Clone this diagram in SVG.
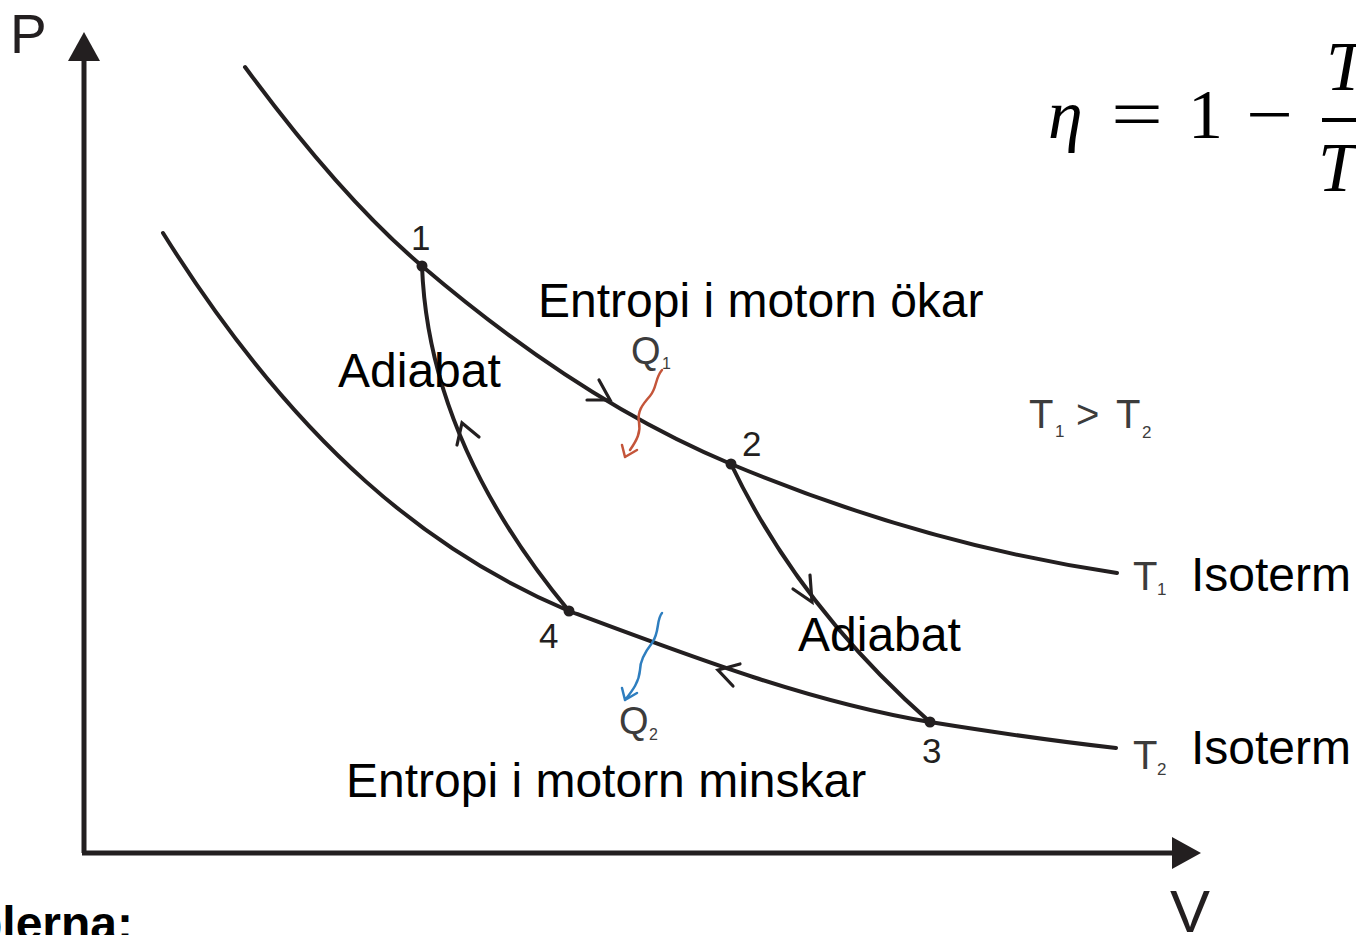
<svg xmlns="http://www.w3.org/2000/svg" width="1356" height="935" viewBox="0 0 1356 935">
<style>
.ln{fill:none;stroke:#231f20;stroke-width:4;stroke-linecap:round;stroke-linejoin:round}
.ax{fill:none;stroke:#231f20;stroke-width:5}
.chev{fill:none;stroke:#231f20;stroke-width:3.2;stroke-linecap:round;stroke-linejoin:miter}
.lbl{font-family:"Liberation Sans",Arial,sans-serif;font-size:48px;fill:#000}
.num{font-family:"Liberation Sans",Arial,sans-serif;font-size:35px;fill:#231f20}
.gray{font-family:"Liberation Sans",Arial,sans-serif;fill:#3c3c3c}
.math{font-family:"Liberation Serif","DejaVu Serif",serif;font-size:70px;fill:#000}
.dot{fill:#231f20}
</style>
<rect width="1356" height="935" fill="#fff"/>
<g id="axes">
<line class="ax" x1="84" y1="56" x2="84" y2="853"/>
<line class="ax" x1="82" y1="853" x2="1176" y2="853"/>
<polygon points="84,32 100,61 68,61" fill="#231f20"/>
<polygon points="1201,853 1172,837 1172,869" fill="#231f20"/>
<text x="10" y="53" font-family="Liberation Sans,Arial,sans-serif" font-size="55" fill="#231f20">P</text>
<text x="1170" y="932" font-family="Liberation Sans,Arial,sans-serif" font-size="60" fill="#231f20">V</text>
</g>
<g id="connectors">
<path id="isoT1" class="ln" d="M245,67 C304,147 363,216 422,266 C525,354 628,421 731,464 C860,518 988,554 1117,573"/>
<path id="isoT2" class="ln" d="M163,233 C298,449 434,554 569,611 C689,656 810,702 930,722 C992,732 1054,741 1116,748"/>
<path id="adi14" class="ln" d="M422,266 Q428.5,441.5 569,611"/>
<path id="adi23" class="ln" d="M731,464 Q799.5,607 930,722"/>
<polyline class="chev" points="599,380 610,400 587,400"/>
<polyline class="chev" points="457,445 462,423 479,437"/>
<polyline class="chev" points="793,589 812,602 810,575"/>
<polyline class="chev" points="740,664 718,670 733,686"/>
</g>
<g id="p1"><circle class="dot" cx="422" cy="266" r="5.5"/><text class="num" x="411" y="250">1</text></g>
<g id="p2"><circle class="dot" cx="731" cy="464" r="5.5"/><text class="num" x="742" y="456">2</text></g>
<g id="p3"><circle class="dot" cx="930" cy="722" r="5.5"/><text class="num" x="922" y="763">3</text></g>
<g id="p4"><circle class="dot" cx="569" cy="611" r="5.5"/><text class="num" x="539" y="648">4</text></g>
<g id="q1">
<path d="M662,370 C655,378 657,388 650,396 C642,405 637,412 639,422 C641,432 637,440 630,450 M625,457 L622,445 M625,457 L637,450" fill="none" stroke="#c4553a" stroke-width="2.5" stroke-linecap="round"/>
<text class="gray" x="631" y="364" font-size="38">Q</text>
<text class="gray" x="662" y="369" font-size="16">1</text>
</g>
<g id="q2">
<path d="M662,613 C656,620 660,632 652,643 C645,652 640,660 640,670 C639,682 633,690 625,700 M625,700 L622,688 M625,700 L637,693" fill="none" stroke="#2e7ebf" stroke-width="2.5" stroke-linecap="round"/>
<text class="gray" x="619" y="734" font-size="38">Q</text>
<text class="gray" x="649" y="740" font-size="16">2</text>
</g>
<g id="labels">
<text class="lbl" x="538" y="317">Entropi i motorn ökar</text>
<text class="lbl" x="338" y="387">Adiabat</text>
<text class="lbl" x="798" y="651">Adiabat</text>
<text class="lbl" x="346" y="797">Entropi i motorn minskar</text>
<text class="lbl" x="1191" y="591">Isoterm</text>
<text class="lbl" x="1191" y="764">Isoterm</text>
<text class="gray" x="1133" y="590" font-size="40">T</text>
<text class="gray" x="1157" y="595" font-size="17">1</text>
<text class="gray" x="1133" y="769" font-size="40">T</text>
<text class="gray" x="1157" y="775" font-size="17">2</text>
<g id="t1gt2">
<text class="gray" x="1029" y="428" font-size="40">T</text>
<text class="gray" x="1055" y="437" font-size="17">1</text>
<text class="gray" x="1076" y="428" font-size="40">&gt;</text>
<text class="gray" x="1116" y="428" font-size="40">T</text>
<text class="gray" x="1142" y="438" font-size="17">2</text>
</g>
</g>
<g id="formula">
<text class="math" x="1048" y="138" font-style="italic" font-size="76">η</text>
<text class="math" x="1111" y="138" textLength="52" lengthAdjust="spacingAndGlyphs">=</text>
<text class="math" x="1188" y="138">1</text>
<text class="math" x="1246" y="138" textLength="47" lengthAdjust="spacingAndGlyphs">−</text>
<line x1="1322" y1="120" x2="1356" y2="120" stroke="#000" stroke-width="4"/>
<text class="math" x="1326" y="90" font-style="italic">T</text>
<text class="math" x="1318" y="191" font-style="italic">T</text>
</g>
<text x="-27" y="940" font-family="Liberation Sans,Arial,sans-serif" font-size="48" font-weight="bold" fill="#000">plerna:</text>
</svg>
